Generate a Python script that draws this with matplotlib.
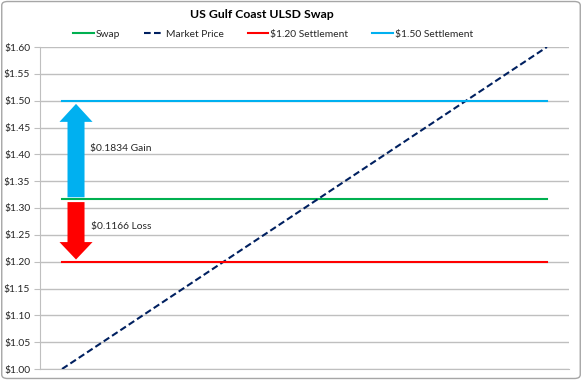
import matplotlib
matplotlib.use("Agg")
import matplotlib.pyplot as plt
from matplotlib.patches import FancyArrow, FancyBboxPatch

plt.rcParams['font.family'] = ['Lato', 'DejaVu Sans']

categories = list(range(12))
market_price = [1.00, 1.0545, 1.1091, 1.1636, 1.2182, 1.2727, 1.3273, 1.3818, 1.4364, 1.4909, 1.5455, 1.60]
swap = [1.3166] * 12
settle_120 = [1.20] * 12
settle_150 = [1.50] * 12
y_ticks = [1.00, 1.05, 1.10, 1.15, 1.20, 1.25, 1.30, 1.35, 1.40, 1.45, 1.50, 1.55, 1.60]
gain_label = "$0.1834 Gain"
loss_label = "$0.1166 Loss"

fs = 7.4
fig = plt.figure(figsize=(5.82, 3.80), dpi=100)
ax = fig.add_axes([40/582, 1-369/380, 529/582, (369-47)/380])

grid_c = '#BFBFBF'
ax.plot(categories, swap, color='#00B050', lw=1.5, label='Swap', zorder=3)
ax.plot(categories, market_price, color='#002060', lw=1.5, ls=(0, (3.2, 1.6)), label='Market Price', zorder=3)
ax.plot(categories, settle_120, color='#FF0000', lw=1.5, label='$1.20 Settlement', zorder=3)
ax.plot(categories, settle_150, color='#00B0F0', lw=1.5, label='$1.50 Settlement', zorder=3)

ax.set_xlim(-0.5, 11.5)
ax.set_ylim(1.00, 1.60)
ax.set_yticks(y_ticks)
ax.set_yticklabels([f"${v:.2f}" for v in y_ticks], fontsize=fs, color='#262626')
ax.set_xticks([])
ax.grid(axis='y', color=grid_c, lw=1)
ax.set_axisbelow(True)
for s in ['top', 'right']:
    ax.spines[s].set_visible(False)
ax.spines['left'].set_color(grid_c)
ax.spines['bottom'].set_color(grid_c)
ax.tick_params(axis='y', length=4, color=grid_c, pad=3)

# arrows
ax.add_patch(FancyArrow(0.317, 1.320, 0, 1.494-1.320, width=0.386, head_width=0.75,
                        head_length=0.0335, length_includes_head=True,
                        color='#00B0F0', lw=0, zorder=4))
ax.add_patch(FancyArrow(0.317, 1.311, 0, 1.204-1.311, width=0.386, head_width=0.75,
                        head_length=0.0325, length_includes_head=True,
                        color='#FF0000', lw=0, zorder=4))
ax.text(0.634, 1.410, gain_label, fontsize=fs, va='center', ha='left', color='#262626')
ax.text(0.66, 1.265, loss_label, fontsize=fs, va='center', ha='left', color='#262626')

fig.text(262/582, 1-15/380, 'US Gulf Coast ULSD Swap', ha='center', va='center',
         fontsize=8.8, fontweight='bold', color='#000000')
fig.legend(loc='center', bbox_to_anchor=(273/582, 1-34/380), ncol=4, frameon=False,
           fontsize=fs, handlelength=2.0, columnspacing=2.3, handletextpad=0.2,
           labelcolor='#262626')

fig.patches.append(FancyBboxPatch((0.003, 0.004), 0.994, 0.992, boxstyle='round,pad=0,rounding_size=0.01',
                                  transform=fig.transFigure, fill=False, ec='#A6A6A6', lw=1))
fig.savefig('out.png', dpi=100)
